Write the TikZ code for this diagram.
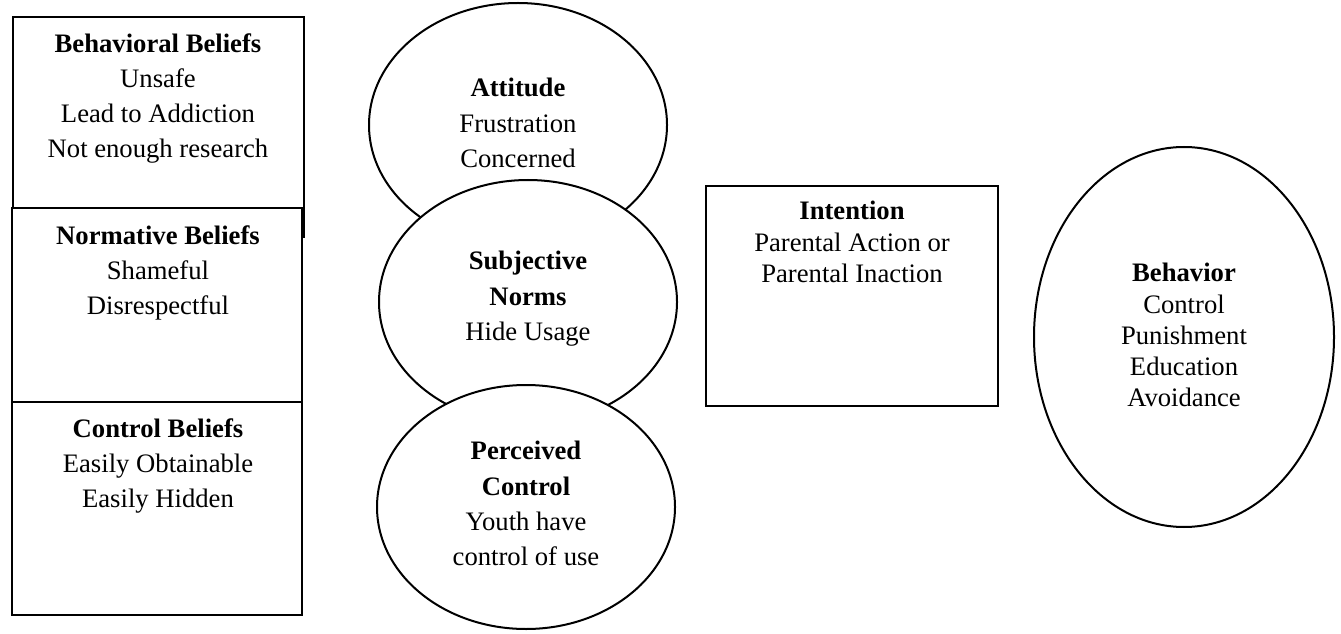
\documentclass[tikz,border=0pt]{standalone}
\usepackage{fontspec}
\setmainfont{Liberation Serif}

\tikzset{
  shape line/.style={line width=0.9pt},
  wide text/.style={align=center, inner sep=0pt, anchor=north,
                    font=\fontsize{12}{15.8}\selectfont},
  tight text/.style={wide text, font=\fontsize{12}{14}\selectfont},
}

\begin{document}
\begin{tikzpicture}[x=0.45pt,y=-0.45pt]
                \useasboundingbox (0,0) rectangle (1341,634);

                % belief boxes, each one over the last
                \filldraw [shape line, fill=white] (13,17) rectangle (304,237);
                \filldraw [shape line, fill=white] (12,208) rectangle (302,402);
                \filldraw [shape line, fill=white] (12,402) rectangle (302,615);

                % attitude / norms / control, stacked
                \filldraw [shape line, fill=white] (518,125) ellipse (149 and 122);
                \filldraw [shape line, fill=white] (528,302) ellipse (149 and 122);
                \filldraw [shape line, fill=white] (526,507) ellipse (149 and 122);

                % intention and behavior
                \draw [shape line] (706,186) rectangle (998,406);
                \draw [shape line] (1184,337) ellipse (150 and 190);

                \node [wide text] (behav) at (158,33)
                      {\textbf{Behavioral Beliefs}\\Unsafe\\Lead to Addiction\\Not enough research};
                \node [wide text] (norm) at (158,225)
                      {\textbf{Normative Beliefs}\\Shameful\\Disrespectful};
                \node [wide text] (ctrl) at (158,418)
                      {\textbf{Control Beliefs}\\Easily Obtainable\\Easily Hidden};

                \node [wide text] (att) at (518,78)
                      {\textbf{Attitude}\\Frustration\\Concerned};
                \node [wide text] (subj) at (528,251)
                      {\textbf{Subjective}\\\textbf{Norms}\\Hide Usage};
                \node [wide text] (perc) at (526,441)
                      {\textbf{Perceived}\\\textbf{Control}\\Youth have\\control of use};

                \node [tight text] (intent) at (852,201)
                      {\textbf{Intention}\\Parental Action or\\Parental Inaction};
                \node [tight text] (behavior) at (1184,263)
                      {\textbf{Behavior}\\Control\\Punishment\\Education\\Avoidance};
\end{tikzpicture}
\end{document}
